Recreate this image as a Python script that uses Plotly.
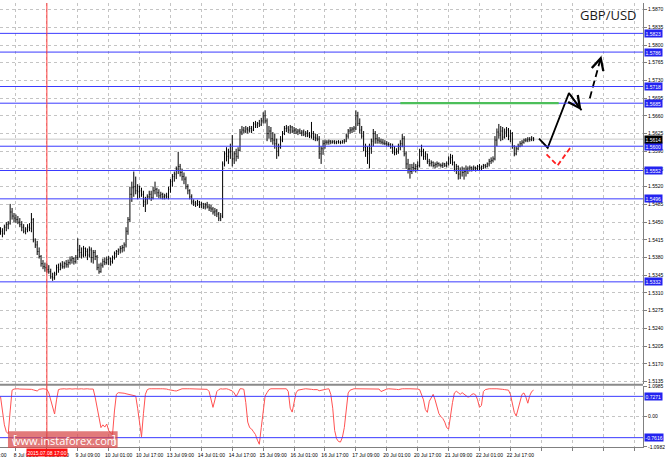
import plotly.graph_objects as go

# ---------------- data ----------------
# H1 bars of GBP/USD, values in pips above 1.5000 (e.g. 432 -> 1.5432)
first_bar = 8
opens = [
    435, 432, 428, 440, 445, 448, 470, 462,
    458, 455, 450, 445, 440, 432, 436, 440, 438, 455, 415, 405, 392, 382, 368, 362,
    360, 356, 352, 342, 340, 348, 360, 356, 365, 362, 368, 366, 370, 375, 378, 372,
    380, 395, 390, 385, 398, 392, 385, 395, 380, 390, 382, 360, 352, 365, 372, 370,
    376, 378, 372, 380, 388, 392, 395, 398, 400, 405, 432, 455, 505, 518, 520, 512,
    510, 512, 505, 490, 495, 500, 505, 498, 512, 515, 508, 502, 505, 500, 502, 500,
    515, 530, 540, 545, 555, 560, 548, 540, 535, 520, 512, 500, 490, 488, 486, 490,
    484, 486, 480, 484, 480, 478, 476, 470, 472, 466, 458, 462, 565, 585, 580, 588,
    590, 575, 585, 580, 592, 628, 632, 630, 634, 632, 635, 632, 644, 642, 645, 642,
    650, 660, 650, 625, 630, 615, 612, 605, 590, 598, 612, 625, 635, 636, 632, 638,
    630, 632, 628, 630, 626, 628, 624, 626, 622, 620, 625, 618, 616, 614, 585, 595,
    605, 608, 608, 610, 608, 609, 607, 609, 608, 607, 610, 610, 620, 630, 632, 634,
    636, 660, 645, 632, 620, 598, 590, 585, 595, 610, 625, 615, 612, 610, 608, 606,
    605, 604, 603, 598, 590, 588, 590, 600, 605, 615, 585, 565, 555, 550, 558, 556,
    560, 562, 590, 590, 580, 585, 570, 566, 568, 562, 564, 566, 563, 562, 565, 562,
    566, 575, 578, 568, 555, 560, 545, 552, 548, 550, 555, 552, 558, 555, 558, 556,
    560, 558, 560, 562, 560, 565, 570, 572, 575, 612, 628, 622, 630, 618, 628, 632,
    620, 625, 600, 585, 595, 600, 605, 608, 612, 612, 614, 613, 616,
]
highs = [
    440, 438, 445, 450, 452, 486, 478, 468,
    465, 462, 458, 452, 446, 440, 446, 448, 468, 458, 418, 413, 400, 385, 375, 370,
    368, 365, 358, 350, 352, 366, 368, 370, 373, 372, 375, 376, 382, 383, 380, 385,
    418, 405, 400, 403, 400, 398, 402, 400, 395, 395, 385, 368, 370, 378, 380, 382,
    383, 380, 384, 392, 395, 398, 403, 405, 410, 440, 460, 520, 530, 550, 540, 525,
    522, 518, 512, 500, 505, 512, 512, 520, 530, 518, 515, 510, 508, 506, 508, 520,
    535, 545, 550, 560, 589, 565, 555, 548, 540, 525, 515, 505, 495, 492, 494, 492,
    490, 488, 488, 490, 486, 484, 480, 478, 476, 470, 468, 570, 590, 598, 595, 605,
    622, 590, 595, 598, 634, 640, 638, 640, 638, 640, 640, 648, 650, 648, 652, 656,
    667, 671, 655, 640, 638, 628, 625, 615, 605, 620, 630, 640, 642, 640, 642, 640,
    638, 636, 634, 635, 632, 633, 630, 632, 628, 648, 630, 625, 624, 620, 600, 612,
    613, 612, 613, 612, 612, 612, 611, 612, 611, 612, 614, 625, 634, 638, 638, 640,
    671, 668, 655, 640, 630, 605, 600, 605, 615, 634, 630, 624, 618, 615, 614, 612,
    610, 608, 606, 605, 600, 596, 605, 612, 624, 620, 590, 575, 565, 565, 568, 565,
    570, 595, 603, 595, 590, 585, 575, 572, 570, 568, 570, 568, 566, 568, 567, 570,
    580, 585, 583, 570, 565, 562, 558, 560, 558, 562, 560, 562, 560, 562, 560, 563,
    565, 562, 565, 565, 568, 575, 578, 580, 620, 635, 644, 640, 638, 635, 638, 636,
    632, 628, 602, 600, 605, 610, 612, 615, 616, 618, 618, 620, 618,
]
lows = [
    425, 420, 425, 432, 436, 445, 455, 450,
    448, 446, 440, 432, 428, 426, 430, 432, 430, 410, 399, 385, 378, 362, 357, 352,
    350, 348, 338, 334, 336, 345, 350, 355, 358, 358, 360, 360, 366, 368, 366, 368,
    375, 380, 378, 380, 382, 375, 380, 370, 368, 375, 355, 348, 350, 360, 365, 366,
    365, 364, 368, 376, 380, 385, 388, 390, 392, 400, 425, 450, 490, 500, 505, 495,
    498, 500, 480, 470, 485, 495, 492, 495, 505, 500, 497, 496, 495, 495, 496, 495,
    508, 520, 530, 535, 545, 540, 532, 525, 515, 505, 495, 485, 482, 480, 482, 478,
    478, 476, 475, 477, 472, 470, 465, 462, 460, 452, 452, 458, 560, 570, 565, 575,
    560, 565, 570, 575, 590, 622, 625, 626, 625, 627, 626, 630, 636, 636, 638, 640,
    645, 645, 610, 615, 608, 603, 595, 575, 580, 595, 608, 622, 628, 626, 625, 626,
    624, 624, 622, 624, 620, 620, 618, 618, 616, 615, 612, 610, 610, 575, 565, 583,
    595, 603, 603, 604, 605, 604, 604, 605, 604, 605, 605, 608, 615, 625, 626, 628,
    632, 640, 625, 615, 590, 579, 565, 556, 585, 600, 605, 605, 605, 604, 603, 602,
    600, 599, 595, 585, 582, 583, 585, 592, 598, 580, 555, 546, 536, 545, 550, 548,
    552, 558, 580, 573, 573, 565, 560, 560, 558, 556, 558, 560, 558, 557, 559, 558,
    562, 565, 562, 550, 545, 534, 535, 540, 534, 540, 545, 550, 550, 552, 550, 553,
    553, 553, 555, 556, 558, 560, 565, 568, 572, 600, 615, 610, 612, 615, 618, 612,
    608, 595, 580, 582, 592, 598, 600, 605, 608, 608, 609, 610, 610,
]
closes = [
    432, 428, 440, 445, 448, 470, 462, 458,
    455, 450, 445, 440, 432, 436, 440, 438, 455, 415, 405, 392, 382, 368, 362, 360,
    356, 352, 342, 340, 348, 360, 356, 365, 362, 368, 366, 370, 375, 378, 372, 380,
    395, 390, 385, 398, 392, 385, 395, 380, 390, 382, 360, 352, 365, 372, 370, 376,
    378, 372, 380, 388, 392, 395, 398, 400, 405, 432, 455, 505, 518, 520, 512, 510,
    512, 505, 490, 495, 500, 505, 498, 512, 515, 508, 502, 505, 500, 502, 500, 515,
    530, 540, 545, 555, 560, 548, 540, 535, 520, 512, 500, 490, 488, 486, 490, 484,
    486, 480, 484, 480, 478, 476, 470, 472, 466, 458, 462, 565, 585, 580, 588, 590,
    575, 585, 580, 592, 628, 632, 630, 634, 632, 635, 632, 644, 642, 645, 642, 650,
    660, 650, 625, 630, 615, 612, 605, 590, 598, 612, 625, 635, 636, 632, 638, 630,
    632, 628, 630, 626, 628, 624, 626, 622, 620, 625, 618, 616, 614, 585, 595, 605,
    608, 608, 610, 608, 609, 607, 609, 608, 607, 610, 610, 620, 630, 632, 634, 636,
    660, 645, 632, 620, 598, 590, 585, 595, 610, 625, 615, 612, 610, 608, 606, 605,
    604, 603, 598, 590, 588, 590, 600, 605, 615, 585, 565, 555, 550, 558, 556, 560,
    562, 590, 590, 580, 585, 570, 566, 568, 562, 564, 566, 563, 562, 565, 562, 566,
    575, 578, 568, 555, 560, 545, 552, 548, 550, 555, 552, 558, 555, 558, 556, 560,
    558, 560, 562, 560, 565, 570, 572, 575, 612, 628, 622, 630, 618, 628, 632, 620,
    625, 600, 585, 595, 600, 605, 608, 612, 612, 614, 613, 616, 614,
]
indicator_values = [
    0.72, 0.2, -0.3, -0.55, -0.62, 0.2, 0.95, 0.99,
    1.0, 1.0, 0.99, 0.99, 1.0, 1.0, 0.99, 0.99, 0.98, 0.96, 0.93, 0.92, 0.98, 1.0, 1.0, 0.99,
    0.98, 0.85, 0.6, 0.3, 0.09, 0.6, 0.97, 0.99, 1.0, 1.0, 0.99, 1.0, 1.0, 0.99, 1.0, 1.0,
    0.99, 1.0, 1.0, 0.99, 1.0, 1.0, 0.99, 0.99, 0.99, 0.7, 0.33, -0.16, -0.4, -0.3, -0.38, -0.27,
    -0.5, -0.6, -0.65, 0.2, 0.8, 0.86, 0.86, 0.85, 0.84, 0.82, 0.8, 0.78, 0.76, 0.75, 0.74, 0.3,
    -0.3, -0.73, 0.1, 0.8, 0.97, 1.0, 1.0, 0.99, 1.0, 1.0, 0.99, 1.0, 1.0, 1.0, 0.99, 0.97,
    0.95, 0.94, 0.93, 0.92, 0.95, 0.98, 1.0, 1.0, 0.99, 1.0, 1.0, 1.0, 0.99, 1.0, 1.0, 1.0,
    1.0, 1.0, 1.0, 0.98, 0.9, 0.6, 0.33, 0.6, 0.9, 0.97, 1.0, 0.99, 1.0, 1.0, 0.98, 0.95,
    0.92, 0.85, 0.72, 0.85, 1.0, 1.0, 0.98, 0.5, -0.2, -0.4, -0.45, -0.55, -0.65, -0.85, -1.0, -0.4,
    0.1, 0.74, 0.86, 0.97, 1.0, 1.0, 1.0, 1.0, 0.99, 1.0, 1.0, 1.0, 1.0, 0.9, 0.3, 0.16,
    0.5, 0.85, 0.95, 0.97, 0.98, 0.99, 1.0, 1.0, 0.99, 0.98, 0.97, 0.96, 0.97, 0.93, 0.95, 0.97,
    0.98, 0.99, 1.0, 0.8, 0.3, -0.5, -0.8, -0.9, -0.92, -0.75, -0.4, 0.3, 0.85, 0.95, 0.98, 1.0,
    1.0, 1.0, 0.99, 1.0, 1.0, 0.99, 0.98, 1.0, 1.0, 0.99, 1.0, 1.0, 0.99, 0.9, 0.93, 0.98,
    0.99, 1.0, 1.0, 0.99, 1.0, 0.98, 0.97, 0.99, 1.0, 1.0, 0.99, 1.0, 1.0, 1.0, 0.99, 0.99,
    0.99, 0.97, 0.75, 0.6, 0.25, 0.15, 0.55, 0.7, 0.8, 0.6, 0.3, 0.1, 0.0, -0.07, -0.2, -0.4,
    -0.45, 0.1, 0.5, 0.85, 0.91, 0.86, 0.8, 0.86, 0.8, 0.75, 0.7, 0.72, 0.8, 0.82, 0.78, 0.6,
    0.33, 0.4, 0.9, 0.97, 0.99, 1.0, 1.0, 0.99, 1.0, 1.0, 1.0, 0.99, 0.98, 0.97, 0.96, 0.95,
    0.8, 0.5, 0.15, 0.02, 0.3, 0.6, 0.8, 0.85, 0.7, 0.48, 0.75, 0.9, 0.95,
]

# time axis (one label every 16 H1 bars, bar 0 = 7 Jul 09:00)
time_labels = ["7 Jul 09:00", "8 Jul 01:00", "8 Jul 17:00", "9 Jul 09:00", "10 Jul 01:00",
               "10 Jul 17:00", "13 Jul 09:00", "14 Jul 01:00", "14 Jul 17:00", "15 Jul 09:00",
               "16 Jul 01:00", "16 Jul 17:00", "17 Jul 09:00", "20 Jul 01:00", "20 Jul 17:00",
               "21 Jul 09:00", "22 Jul 01:00", "22 Jul 17:00"]
label_step = 16
price_tick_labels = ["1.5135", "1.5170", "1.5205", "1.5240", "1.5275", "1.5310", "1.5345",
                     "1.5380", "1.5415", "1.5450", "1.5485", "1.5520", "1.5555", "1.5590",
                     "1.5625", "1.5660", "1.5695", "1.5730", "1.5765", "1.5800", "1.5835", "1.5870"]
level_prices = [1.5823, 1.5786, 1.5718, 1.5685, 1.5600, 1.5552, 1.5496, 1.5332]
green_level = 1.5685
green_span = [215, 297]
indicator_levels = [0.7271, -0.7616]
indicator_ticks = [1.0985, 0.0, -1.0982]
indicator_tick_labels = ["1.0985", "0.00", "-1.0982"]
cursor_bar = 32
cursor_label = "2015.07.08 17:00"

# forecast sketch (bar index, price)
main_path_x = [286.8, 291.3, 302.3, 308.8]
main_path_y = [1.5615, 1.5597, 1.5705, 1.5671]
dash_path_x = [313.1, 319.1]
dash_path_y = [1.5695, 1.5779]
alt_path_x = [290.7, 296.4, 303.6]
alt_path_y = [1.5584, 1.5562, 1.5600]

# ---------------- figure ----------------
n = len(closes)
bars = list(range(first_bar, first_bar + n))
to_price = lambda v: 1.5 + v / 10000.0
last_price = to_price(closes[-1])

W, H = 665, 458
ML, MR, MT, MB = 0, 20, 0, 10
PW, PH = W - ML - MR, H - MT - MB  # plot area size
MAIN_BOTTOM_PX = 384
IND_TOP_PX = 386.5

BLUE = "#3a3aff"
GRID = "#c4c4c4"
AXIS = "#808080"
SMALL = dict(family="Liberation Sans, Arial, sans-serif", size=5, color="#000000")

fig = go.Figure()
fig.add_trace(go.Ohlc(
    x=bars,
    open=[to_price(v) for v in opens],
    high=[to_price(v) for v in highs],
    low=[to_price(v) for v in lows],
    close=[to_price(v) for v in closes],
    increasing=dict(line=dict(color="#000000", width=1)),
    decreasing=dict(line=dict(color="#000000", width=1)),
    tickwidth=0.3, xaxis="x", yaxis="y", hoverinfo="skip", showlegend=False,
))
fig.add_trace(go.Scatter(
    x=bars, y=indicator_values, mode="lines",
    line=dict(color="#ff5252", width=1), xaxis="x2", yaxis="y2",
    hoverinfo="skip", showlegend=False,
))
# forecast paths
fig.add_trace(go.Scatter(x=main_path_x, y=main_path_y, mode="lines",
                         line=dict(color="#000000", width=1.8), xaxis="x", yaxis="y",
                         hoverinfo="skip", showlegend=False))
fig.add_trace(go.Scatter(x=dash_path_x, y=dash_path_y, mode="lines",
                         line=dict(color="#000000", width=1.8, dash="7px,4px"), xaxis="x", yaxis="y",
                         hoverinfo="skip", showlegend=False))
fig.add_trace(go.Scatter(x=alt_path_x, y=alt_path_y, mode="lines",
                         line=dict(color="#ff2020", width=1.8, dash="5px,3px"), xaxis="x", yaxis="y",
                         hoverinfo="skip", showlegend=False))

tick_positions = [label_step * k for k in range(22)]
tick_texts = [time_labels[k] if k < len(time_labels) else "" for k in range(22)]
x_range = [first_bar - 0.26, first_bar - 0.26 + PW / 1.9375]
y_range = [1.5131, 1.5883]

shapes = []
# horizontal support / resistance levels
for lv in level_prices:
    shapes.append(dict(type="line", xref="paper", x0=0, x1=1, yref="y", y0=lv, y1=lv,
                       line=dict(color=BLUE, width=1), layer="above"))
# last price (bid) line
shapes.append(dict(type="line", xref="paper", x0=0, x1=1, yref="y", y0=last_price, y1=last_price,
                   line=dict(color="#c8c8c8", width=1), layer="below"))
# green level segment
shapes.append(dict(type="line", xref="x", x0=green_span[0], x1=green_span[1], yref="y",
                   y0=green_level, y1=green_level, line=dict(color="#4cbf5a", width=2.2), layer="above"))
# indicator levels
for lv in indicator_levels:
    shapes.append(dict(type="line", xref="paper", x0=0, x1=1, yref="y2", y0=lv, y1=lv,
                       line=dict(color=BLUE, width=1), layer="above"))
# panel separator
sep_y = 1 - 385.2 / PH
shapes.append(dict(type="line", xref="paper", x0=0, x1=1, yref="paper", y0=sep_y, y1=sep_y,
                   line=dict(color="#8a8a8a", width=2)))
# crosshair
shapes.append(dict(type="line", xref="x", x0=cursor_bar, x1=cursor_bar, yref="paper", y0=0, y1=1,
                   line=dict(color="#ff3b3b", width=1), layer="above"))
# watermark box
shapes.append(dict(type="rect", xref="paper", yref="paper",
                   x0=8 / PW, x1=118 / PW, y0=1 - 449 / PH, y1=1 - 432 / PH,
                   fillcolor="rgba(215,70,70,0.72)", line=dict(width=0), layer="above"))

ann = []
def box_label(text, y, yref, color):
    ann.append(dict(text=text, xref="paper", x=1, xanchor="left", xshift=1, yref=yref, y=y,
                    yanchor="middle", showarrow=False, bgcolor=color, borderpad=0.5,
                    font=dict(family=SMALL["family"], size=5, color="#ffffff")))

for lv in level_prices:
    box_label(f"{lv:.4f}", lv, "y", "#2323f0")
box_label(f"{last_price:.4f}", last_price, "y", "#000000")
for lv in indicator_levels:
    box_label(f"{lv:.4f}", lv, "y2", "#2323f0")

# arrowheads of the forecast sketch
def arrow_head(x_tail, y_tail, x_head, y_head, color):
    ann.append(dict(x=x_head, y=y_head, ax=x_tail, ay=y_tail, xref="x", yref="y",
                    axref="x", ayref="y", text="", showarrow=True, arrowhead=5,
                    arrowsize=1.3, arrowwidth=1.8, arrowcolor=color))

arrow_head(main_path_x[-2], main_path_y[-2], main_path_x[-1], main_path_y[-1], "#000000")
arrow_head(dash_path_x[0] + 0.8 * (dash_path_x[1] - dash_path_x[0]),
           dash_path_y[0] + 0.8 * (dash_path_y[1] - dash_path_y[0]),
           dash_path_x[1], dash_path_y[1], "#000000")
arrow_head(alt_path_x[1] + 0.75 * (alt_path_x[2] - alt_path_x[1]),
           alt_path_y[1] + 0.75 * (alt_path_y[2] - alt_path_y[1]),
           alt_path_x[2], alt_path_y[2], "#ff2020")

# title
ann.append(dict(text="GBP/USD", xref="paper", x=640 / PW, xanchor="right",
                yref="paper", y=1 - 12 / PH, yanchor="middle", showarrow=False,
                font=dict(family="Open Sans, sans-serif", size=13, color="#1a1a1a")))
# watermark text
ann.append(dict(text="www.instaforex.com", xref="paper", x=65 / PW, xanchor="center",
                yref="paper", y=1 - 441 / PH, yanchor="middle", showarrow=False,
                font=dict(family="Open Sans, sans-serif", size=11, color="#ffffff")))
ann.append(dict(text="[", xref="paper", x=15 / PW, xanchor="center",
                yref="paper", y=1 - 440.5 / PH, yanchor="middle", showarrow=False,
                font=dict(family="Open Sans, sans-serif", size=12, color="#ffffff")))
ann.append(dict(text="]", xref="paper", x=114 / PW, xanchor="center",
                yref="paper", y=1 - 440.5 / PH, yanchor="middle", showarrow=False,
                font=dict(family="Open Sans, sans-serif", size=12, color="#ffffff")))
# clipped first time label at the very left
ann.append(dict(text=time_labels[0], xref="paper", x=-20 / PW, xanchor="left",
                yref="paper", y=-3.5 / PH, yanchor="top", showarrow=False, font=SMALL))
# cursor time label
ann.append(dict(text=cursor_label, xref="x", x=cursor_bar, xanchor="center",
                yref="paper", y=-1.5 / PH, yanchor="top", showarrow=False,
                bgcolor="#ff1010", borderpad=0.5,
                font=dict(family=SMALL["family"], size=5, color="#ffffff")))

fig.update_layout(
    width=W, height=H, margin=dict(l=ML, r=MR, t=MT, b=MB, pad=0),
    paper_bgcolor="#ffffff", plot_bgcolor="#ffffff", showlegend=False, hovermode=False,
    font=SMALL,
    xaxis=dict(domain=[0, 1], anchor="y", range=x_range, tickvals=tick_positions,
               showticklabels=False, ticks="", showgrid=True, gridcolor=GRID, griddash="dot",
               gridwidth=1, zeroline=False, showline=False, rangeslider=dict(visible=False)),
    yaxis=dict(domain=[1 - MAIN_BOTTOM_PX / PH, 1], anchor="x", range=y_range, side="right",
               tickvals=[float(t) for t in price_tick_labels], ticktext=price_tick_labels,
               ticks="outside", ticklen=3, tickcolor=AXIS, showline=True, linecolor=AXIS,
               linewidth=1, showgrid=True, gridcolor=GRID, griddash="dot", zeroline=False,
               tickfont=SMALL),
    xaxis2=dict(domain=[0, 1], anchor="y2", range=x_range, tickvals=tick_positions,
                ticktext=tick_texts, ticks="outside", ticklen=3, tickcolor=AXIS,
                ticklabelshift=10, tickfont=SMALL, showline=True, linecolor=AXIS,
                showgrid=True, gridcolor=GRID, griddash="dot", zeroline=False, tickangle=0),
    yaxis2=dict(domain=[0, (PH - IND_TOP_PX) / PH], anchor="x2", range=[-1.0982, 1.0985],
                side="right", tickvals=indicator_ticks, ticktext=indicator_tick_labels,
                ticks="outside", ticklen=3, tickcolor=AXIS, showline=True, linecolor=AXIS,
                showgrid=True, gridcolor=GRID, griddash="dot", zeroline=False, tickfont=SMALL),
    shapes=shapes, annotations=ann,
)

# remove the default page margin so the figure sits at the window's top-left corner
fig.write_html("out.html", config={"displayModeBar": False},
               post_script="document.body.style.margin='0px';")
